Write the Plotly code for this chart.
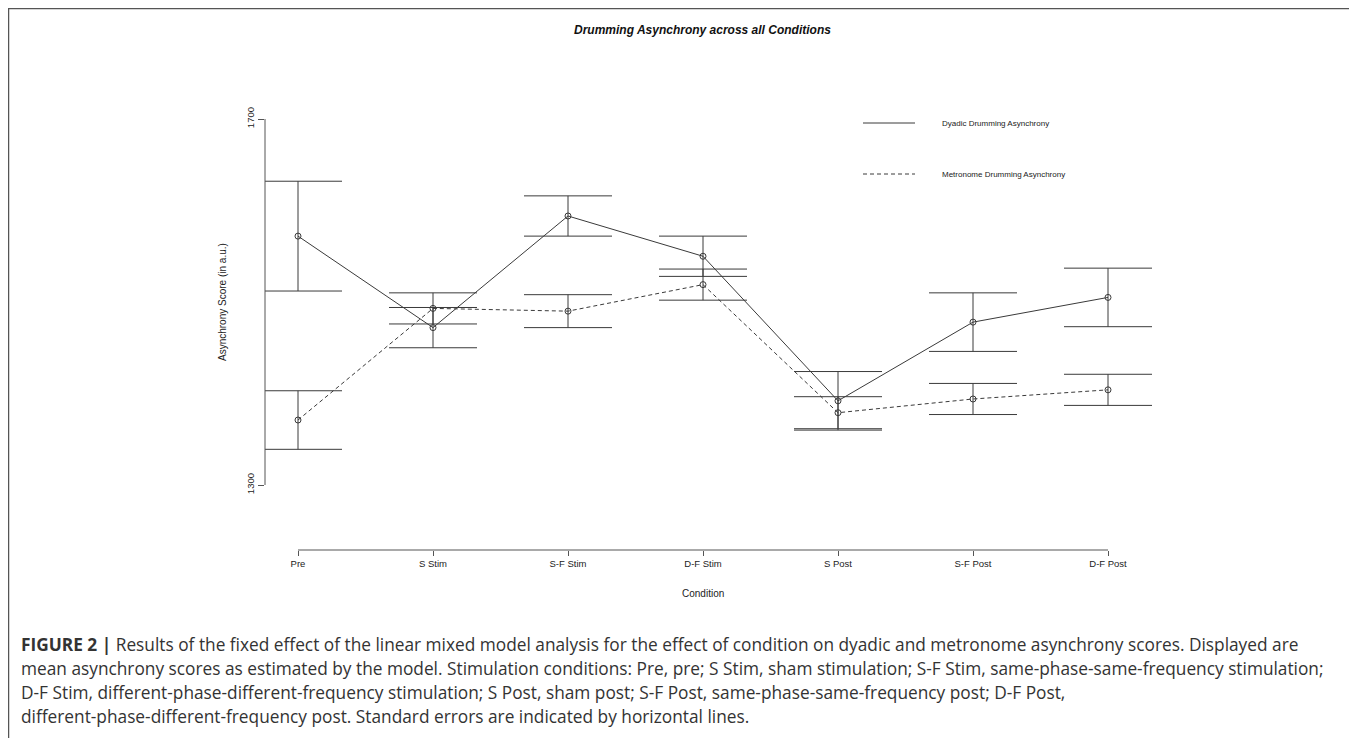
import plotly.graph_objects as go

conditions = ["Pre", "S Stim", "S-F Stim", "D-F Stim", "S Post", "S-F Post", "D-F Post"]
dyadic_mean = [1572, 1472, 1594, 1550, 1392, 1478, 1505]
dyadic_se = [60, 22, 22, 22, 32, 32, 32]
metro_mean = [1371, 1493, 1490, 1519, 1379, 1394, 1404]
metro_se = [32, 17, 18, 17, 17.5, 17, 17]
y_ticks = [1300, 1700]

xi = list(range(len(conditions)))
LINE = "#3a3a3a"
FONT = "Liberation Sans, Arial, Helvetica, sans-serif"
CAPFONT = "Open Sans, Liberation Sans, sans-serif"

# the page body adds an 8px margin; work in reference-pixel coordinates and shift
OFF = 8
W, H = 1357 - OFF, 738 - OFF
L, R, T, B = 265 - OFF, 1180 - OFF, 60 - OFF, 550 - OFF
Y1700_PX = 119 - OFF
PX_PER_UNIT = 0.915

fig = go.Figure()
fig.add_trace(go.Scatter(
    x=xi, y=dyadic_mean, mode="lines+markers", name="Dyadic Drumming Asynchrony",
    line=dict(color=LINE, width=1),
    marker=dict(symbol="circle-open", size=6, color=LINE, line=dict(width=1)),
    error_y=dict(type="data", array=dyadic_se, visible=True, color=LINE, thickness=1, width=44),
    showlegend=False,
))
fig.add_trace(go.Scatter(
    x=xi, y=metro_mean, mode="lines+markers", name="Metronome Drumming Asynchrony",
    line=dict(color=LINE, width=1, dash="4px,3px"),
    marker=dict(symbol="circle-open", size=6, color=LINE, line=dict(width=1)),
    error_y=dict(type="data", array=metro_se, visible=True, color=LINE, thickness=1, width=44),
    showlegend=False,
))

pw, ph = R - L, B - T
def px_x(p):
    return (p - OFF - L) / pw
def px_y(p):
    return (B - (p - OFF)) / ph

shapes = []
shapes.append(dict(type="line", xref="x", yref="paper", x0=xi[0], x1=xi[-1], y0=0, y1=0,
                   line=dict(color="#555", width=1)))
shapes.append(dict(type="line", xref="paper", yref="y", x0=0, x1=0, y0=y_ticks[0], y1=y_ticks[-1],
                   line=dict(color="#555", width=1)))
shapes.append(dict(type="line", xref="paper", yref="paper",
                   x0=px_x(863), x1=px_x(915), y0=px_y(123), y1=px_y(123),
                   line=dict(color=LINE, width=1)))
shapes.append(dict(type="line", xref="paper", yref="paper",
                   x0=px_x(863), x1=px_x(915), y0=px_y(174), y1=px_y(174),
                   line=dict(color=LINE, width=1, dash="4px,3px")))
shapes.append(dict(type="rect", xref="paper", yref="paper",
                   x0=px_x(8.5), x1=px_x(1355), y0=px_y(750), y1=px_y(8.5),
                   line=dict(color="#555", width=1.5)))

ann = []
def add_text(text, xpx, ypx, size, xanchor="center", angle=0, color="#222", family=FONT):
    ann.append(dict(text=text, xref="paper", yref="paper", x=px_x(xpx), y=px_y(ypx),
                    xanchor=xanchor, yanchor="middle", showarrow=False, textangle=angle,
                    font=dict(family=family, size=size, color=color)))

add_text("<b><i>Drumming Asynchrony across all Conditions</i></b>", 702, 30, 12, color="#111")
add_text("Dyadic Drumming Asynchrony", 940, 123, 8, xanchor="left")
add_text("Metronome Drumming Asynchrony", 940, 174, 8, xanchor="left")
add_text("Asynchrony Score (in a.u.)", 222, 302, 10, angle=-90)
add_text("Condition", 703, 593, 10)

cap = [
    "<b>FIGURE 2 |</b> Results of the fixed effect of the linear mixed model analysis for the effect of condition on dyadic and metronome asynchrony scores. Displayed are",
    "mean asynchrony scores as estimated by the model. Stimulation conditions: Pre, pre; S Stim, sham stimulation; S-F Stim, same-phase-same-frequency stimulation;",
    "D-F Stim, different-phase-different-frequency stimulation; S Post, sham post; S-F Post, same-phase-same-frequency post; D-F Post,",
    "different-phase-different-frequency post. Standard errors are indicated by horizontal lines.",
]
for i, line in enumerate(cap):
    add_text(line, 19, 645 + i * 23.7, 17.3, xanchor="left", color="#333", family=CAPFONT)

fig.update_layout(
    width=W, height=H,
    margin=dict(l=L, r=W - R, t=T, b=H - B, pad=0),
    paper_bgcolor="white", plot_bgcolor="white",
    font=dict(family=FONT, size=9.5, color="#222"),
    shapes=shapes, annotations=ann,
    xaxis=dict(range=[-33 / 135, 882 / 135], tickvals=xi, ticktext=conditions,
               showgrid=False, zeroline=False, showline=False,
               ticks="outside", ticklen=5, tickcolor="#555", tickwidth=1,
               tickfont=dict(size=9.5, family=FONT, color="#222")),
    yaxis=dict(range=[1700 - (B - Y1700_PX) / PX_PER_UNIT, 1700 + (Y1700_PX - T) / PX_PER_UNIT],
               tickvals=y_ticks,
               showgrid=False, zeroline=False, showline=False,
               ticks="outside", ticklen=6, tickcolor="#555", tickwidth=1, tickangle=-90,
               tickfont=dict(size=9.5, family=FONT, color="#222")),
)

fig.write_html("out.html")
